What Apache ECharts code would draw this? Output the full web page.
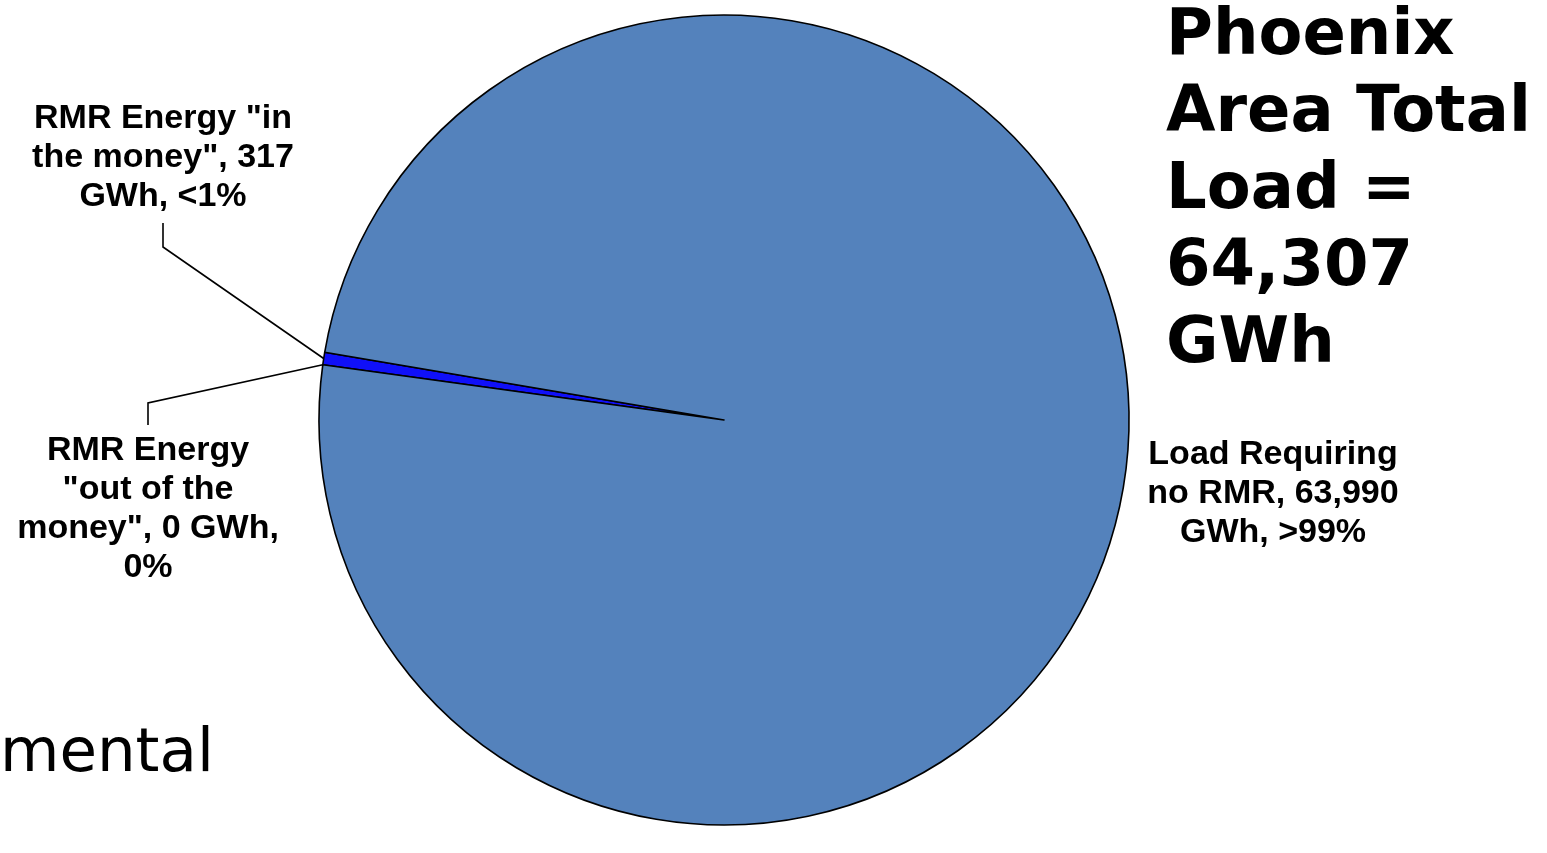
<!DOCTYPE html>
<html>
<head>
<meta charset="utf-8">
<script src="https://cdn.jsdelivr.net/npm/echarts@6/dist/echarts.min.js"></script>
<style>
html,body{margin:0;padding:0;background:#fff;}
#chart{width:1547px;height:853px;}
</style>
</head>
<body>
<div id="chart"></div>
<script>
// ---- data ----
const categories = ['RMR Energy "out of the money"', 'RMR Energy "in the money"', 'Load Requiring no RMR'];
const values = [0, 317, 63990];
const labelTexts = [
  'RMR Energy\n"out of the\nmoney", 0 GWh,\n0%',
  'RMR Energy "in\nthe money", 317\nGWh, <1%',
  'Load Requiring\nno RMR, 63,990\nGWh, >99%'
];
const sliceColors = ['#1010f8', '#1010f8', '#5482bc'];
const titleText = 'Phoenix\nArea Total\nLoad =\n64,307\nGWh';
const sideText = 'mental';

// label anchor positions (annotation placement)
const labelPos = [
  {x: 148, y: 509, elbow: [148, 403], end: [148, 425]},
  {x: 163, y: 158, elbow: [163, 247], end: [163, 223]},
  {x: 1273, y: 494}
];

const chart = echarts.init(document.getElementById('chart'));
const option = {
  backgroundColor: '#ffffff',
  animation: false,
  title: [
    {
      text: titleText,
      left: 1161,
      top: -6,
      textStyle: {fontFamily: 'DejaVu Sans', fontWeight: 'bold', fontSize: 64, lineHeight: 77, color: '#000'}
    },
    {
      text: sideText,
      left: -5,
      top: 720,
      textStyle: {fontFamily: 'DejaVu Sans', fontWeight: 'normal', fontSize: 61, lineHeight: 61, color: '#000'}
    }
  ],
  series: [{
    type: 'pie',
    center: [724, 420],
    radius: [0, 405],
    startAngle: 172.15,
    clockwise: true,
    avoidLabelOverlap: false,
    itemStyle: {borderColor: '#000', borderWidth: 1.6},
    label: {
      show: true,
      position: 'outside',
      fontFamily: 'Liberation Sans, Arial, sans-serif',
      fontWeight: 'bold',
      fontSize: 34,
      lineHeight: 39,
      color: '#000',
      align: 'center'
    },
    labelLine: {show: true, smooth: false, length: 20, length2: 20, lineStyle: {color: '#000', width: 1.6}},
    labelLayout: function (params) {
      const p = labelPos[params.dataIndex];
      const res = {x: p.x, y: p.y, align: 'center', verticalAlign: 'middle', hideOverlap: false};
      if (p.elbow && params.labelLinePoints) {
        res.labelLinePoints = [params.labelLinePoints[0], p.elbow, p.end];
      }
      return res;
    },
    data: categories.map((c, i) => ({
      name: c,
      value: values[i],
      itemStyle: {color: sliceColors[i]},
      label: {formatter: labelTexts[i]},
      labelLine: {show: i < 2}
    }))
  }]
};
chart.setOption(option);
</script>
</body>
</html>
